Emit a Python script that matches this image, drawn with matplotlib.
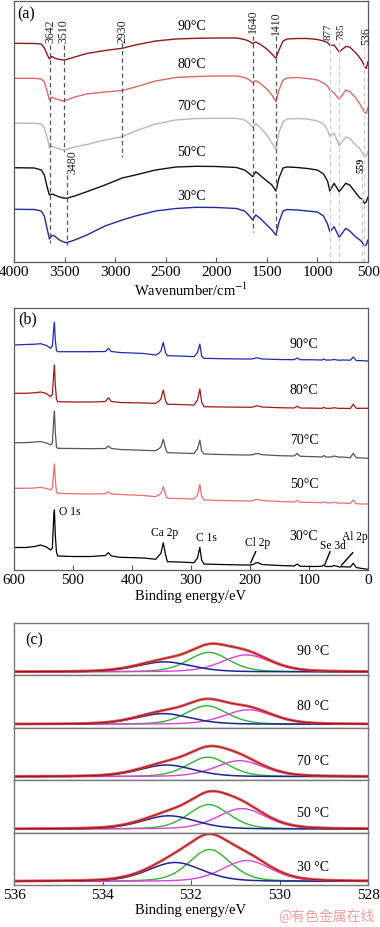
import matplotlib
matplotlib.use('Agg')
import matplotlib.pyplot as plt
import numpy as np

plt.rcParams['font.family'] = ['Liberation Serif', 'DejaVu Serif']
plt.rcParams['mathtext.fontset'] = 'stix'

# ---------------- (a) FTIR data ----------------
wavenumber = [4000, 3800, 3730, 3700, 3670, 3650, 3625, 3600, 3550, 3510, 3480, 3400,
              3280, 3100, 2930, 2800, 2600, 2400, 2200, 2000, 1800, 1720, 1680, 1640,
              1610, 1570, 1500, 1450, 1410, 1380, 1340, 1300, 1200, 1100, 1000, 940,
              900, 877, 835, 785, 720, 680, 620, 580, 559, 536, 518, 500]
ftir_90 = [218.7, 218.5, 218, 214, 207, 203, 205.5, 204, 202.5, 202, 202.5, 205,
           208.5, 211.5, 213.7, 217, 221, 223, 223.7, 224, 224, 222.5, 221, 218.5,
           220, 218, 213, 208, 203.7, 212, 221, 223, 223.5, 223.5, 222.5, 221,
           219.5, 216.5, 217, 210, 215.5, 215, 209, 204, 201, 196, 193.5, 200.3]
ftir_80 = [183.7, 183.7, 183, 180, 170, 162, 165, 163.5, 162, 161, 162, 165,
           168, 170, 171.5, 175, 181, 184.5, 185.5, 186, 186, 184.5, 182.5, 179.5,
           181.5, 179, 173, 167, 160.3, 172, 182, 184, 184.5, 183.5, 182, 179,
           176, 172, 169, 162.7, 172, 170.5, 164, 158, 154, 150, 148.7, 154.7]
ftir_70 = [139, 138.7, 138, 134, 124, 114, 116, 115, 113, 112, 112.5, 115,
           117.5, 122, 125.3, 131, 138, 142, 143.5, 143.7, 143.7, 142, 139, 134.5,
           138.5, 135, 127, 119, 112.7, 130, 140, 143, 143.5, 143, 141, 138,
           132, 125.3, 129, 116, 125, 123.5, 117, 113, 110, 105.3, 106, 110.3]
ftir_50 = [94.3, 94, 92, 87, 74, 67, 68, 67, 65, 64, 63.7, 66,
           70.3, 77, 84, 87, 92, 95, 95.7, 95.5, 94.5, 92, 89, 85.3,
           90.3, 87, 81, 77, 71, 84, 94, 95, 94.5, 93.5, 92, 88,
           81, 71, 78.7, 70.3, 78.7, 77, 69, 64, 63, 58.7, 60, 65]
ftir_30 = [52.7, 52.5, 51, 46, 32, 23, 26.5, 26, 22, 20, 19.3, 22,
           27, 36, 42, 46, 51, 53.5, 54.7, 54.5, 53.5, 51, 47, 42,
           47, 44, 37, 32, 27, 40, 51, 52.5, 52, 51, 50, 46,
           38, 30.3, 35.3, 24.7, 33.7, 31, 25, 22, 20, 16, 17, 22]
ftir_temps = ['90°C', '80°C', '70°C', '50°C', '30°C']
ftir_ticks = [4000, 3500, 3000, 2500, 2000, 1500, 1000, 500]
band_labels = ['3642', '3510', '3480', '2930', '1640', '1410', '877', '785', '559', '536']
band_positions = [3642, 3510, 3480, 2930, 1640, 1410, 877, 785, 559, 536]

# ---------------- (b) XPS survey data ----------------
binding_energy = [600, 580, 565, 555, 545, 538, 535, 532.5, 531.5, 530, 528, 526, 500, 470,
                  445, 440, 435, 420, 380, 360, 355, 351, 347, 343, 340, 320, 295, 289,
                  285, 282, 278, 250, 210, 200, 195, 190, 186, 180, 150, 125, 120, 115,
                  90, 78, 75, 72, 62, 58, 48, 45, 30, 25, 20, 10, 0]
xps_90 = [225, 225.5, 225.8, 226.3, 224.5, 221.7, 224, 242, 247.7, 230, 219.5, 218.3, 218.3, 218.3,
          218.5, 221.7, 218.5, 217.5, 216.5, 215, 216.5, 219, 227.7, 217, 214.3, 214, 213.3, 217.5,
          226, 214, 211.7, 211.3, 211, 211, 211.2, 212, 212, 211, 210.5, 210.3, 212, 210.3,
          210.2, 210, 211, 210, 210, 210.5, 209.7, 210, 209.8, 213, 209.5, 209.3, 209]
xps_80 = [176.7, 176.7, 177.2, 178, 176.5, 173.3, 175.5, 198, 205, 185, 171, 168.3, 168, 168,
          168.5, 172.3, 168.5, 167.5, 167, 166.7, 168.5, 171, 180, 169, 165.7, 165.5, 165, 170,
          181, 168, 163.3, 163, 162.8, 162.7, 163, 164, 164, 163, 162.3, 162, 163.8, 162,
          161.8, 161.7, 162.7, 161.7, 161.7, 162.3, 161.5, 161.7, 161.5, 165.7, 161.7, 161.7, 161.7]
xps_70 = [127.3, 127.3, 128, 128.5, 127, 125, 127, 152, 159, 138, 123, 121.7, 121.5, 121.3,
          121.5, 124, 121.5, 120.5, 119.7, 119.3, 121, 123, 130.7, 121, 117.3, 117, 116.5, 121,
          130, 119, 116, 115.5, 115, 115, 115.3, 116.3, 116.3, 115.3, 114.3, 114, 116.5, 113.7,
          113.3, 113, 114.5, 113, 113, 114, 112.7, 113, 112.3, 116.7, 112.3, 112, 111.7]
xps_50 = [81.7, 81.7, 82, 82.7, 81.5, 80, 82, 100, 106, 90, 78, 76.7, 76.3, 76,
          76.3, 78.3, 76, 75.5, 74.5, 73.3, 75, 76.5, 83.3, 75, 71.7, 71.5, 71, 75,
          85.7, 74, 70, 69.5, 69, 69, 69.5, 70.5, 70.5, 69.5, 68.5, 68, 69.5, 67.8,
          67.5, 67.3, 68.3, 67.3, 67, 67.8, 66.7, 67, 66.5, 70, 66.3, 66, 66]
xps_30 = [22.5, 22.5, 23.5, 25, 23, 20, 22, 55, 60, 35, 18, 14, 13.5, 13.5,
          14.5, 17.3, 14, 12.7, 12, 10.7, 14, 16.7, 27.3, 15, 8.3, 8, 7.3, 12,
          22.7, 10, 6, 5.5, 5, 5, 5.5, 7, 7.3, 5.5, 4.5, 4, 6, 3.7,
          3.5, 3.7, 5, 3.5, 3.5, 4.5, 3, 3.3, 3, 6.7, 2.5, 1.5, 0.7]
xps_temps = ['90°C', '80°C', '70°C', '50°C', '30°C']
xps_ticks = [600, 500, 400, 300, 200, 100, 0]
xps_peak_names = ['O 1s', 'Ca 2p', 'C 1s', 'Cl 2p', 'Se 3d', 'Al 2p']

# ---------------- (c) O 1s fits ----------------
o1s_temps = ['90 °C', '80 °C', '70 °C', '50 °C', '30 °C']
blue_center = [532.60, 532.63, 532.55, 532.50, 532.36]
blue_height = [10.0, 10.7, 11.7, 13.3, 19.0]
green_center = [531.60, 531.65, 531.62, 531.60, 531.58]
green_height = [19.5, 18.5, 19.5, 24.5, 32.0]
magenta_center = [530.75, 530.70, 530.90, 530.85, 530.74]
magenta_height = [17.0, 14.5, 16.0, 20.5, 21.0]
blue_fwhm = [1.45, 1.45, 1.45, 1.45, 1.45]
green_fwhm = [1.10, 1.10, 1.10, 1.10, 1.10]
magenta_fwhm = [1.30, 1.30, 1.30, 1.30, 1.30]
o1s_ticks = [536, 534, 532, 530, 528]

# ================= figure =================
fig = plt.figure(figsize=(3.8, 9.27), dpi=100)
W, H = 380.0, 927.0
L = 14 / W
AW = 354 / W
spine_col = '#5a5a5a'


def style_axes(ax):
    for s in ax.spines.values():
        s.set_color(spine_col)
        s.set_linewidth(0.9)
    ax.tick_params(axis='x', direction='in', length=3.5, width=0.8, color=spine_col,
                   labelsize=11, pad=3)
    ax.set_yticks([])


# ---- (a)
axa = fig.add_axes([L, 1 - 262 / H, AW, 261 / H])
style_axes(axa)
ftir_colors = ['#8e1b1b', '#e06868', '#b8b8b8', '#111111', '#1f2a9e']
for ys, c in zip([ftir_90, ftir_80, ftir_70, ftir_50, ftir_30], ftir_colors):
    axa.plot(wavenumber, ys, color=c, lw=1.0)
axa.set_xlim(4000, 500)
axa.set_ylim(0, 261)
axa.set_xticks(ftir_ticks)
axa.set_xticklabels([str(t) for t in ftir_ticks])
axa.set_xlabel('Wavenumber/cm$^{-1}$', fontsize=10.5, labelpad=2)

# dashed band markers (x, y0, y1, dark?)
dash_extent = [(217, 19, True), (217, 110, True), (87, 17, True), (219, 105, True),
               (226, 30, True), (226, 26, True), (220, 0, False), (220, 0, False),
               (86, 0, False), (215, 0, False)]
for xpos, (y0, y1, dark) in zip(band_positions, dash_extent):
    axa.plot([xpos, xpos], [y0, y1], color='#555555' if dark else '#cfcfcf',
             lw=0.9, ls=(0, (3.5, 2.5)))
# band labels: (x, y, va)
lab_place = [(3642, 219, 'bottom'), (3510, 219, 'bottom'), (3426, 112, 'top'),
             (2930, 219, 'bottom'), (1640, 229, 'bottom'), (1410, 227, 'bottom'),
             (890, 222, 'bottom'), (768, 222, 'bottom'), (571, 104, 'top'),
             (522, 217, 'bottom')]
for txt, (xp, yp, va) in zip(band_labels, lab_place):
    small = txt == '559'
    size = 7.5 if small else (8.0 if txt in ('877', '785') else 8.5)
    axa.text(xp, yp, txt, rotation=90, ha='center', va=va,
             fontsize=size, color='#222222',
             fontweight='bold' if small else 'normal', clip_on=False)
for t, yv in zip(ftir_temps, [235, 197, 155, 109, 65]):
    axa.text(2244, yv, t, ha='center', va='center', fontsize=10)
axa.text(0.01, 0.95, '(a)', transform=axa.transAxes, fontsize=11.5, ha='left', va='center')

# ---- (b)
axb = fig.add_axes([L, 1 - 570 / H, AW, 262 / H])
style_axes(axb)
xps_colors = ['#1f2ab0', '#a01818', '#555555', '#e87070', '#000000']
for ys, c in zip([xps_90, xps_80, xps_70, xps_50, xps_30], xps_colors):
    axb.plot(binding_energy, ys, color=c, lw=0.9)
axb.set_xlim(600, 0)
axb.set_ylim(0, 262)
axb.set_xticks(xps_ticks)
axb.set_xticklabels([str(t) for t in xps_ticks])
axb.set_xlabel('Binding energy/eV', fontsize=10.5, labelpad=2)
for t, yv in zip(xps_temps, [225.7, 179, 130, 85, 33]):
    axb.text(108.5, yv, t, ha='center', va='center', fontsize=10)
name_place = [(523.7, 58, 'left'), (345, 36.7, 'center'), (274.6, 32, 'center'),
              (186.4, 27.3, 'center'), (59.3, 24, 'center'), (22, 32.7, 'center')]
for nm, (xp, yp, ha) in zip(xps_peak_names, name_place):
    axb.text(xp, yp, nm, ha=ha, va='center', fontsize=8.3)
for (x0, y0, x1, y1) in [(198.8, 7.3, 190.3, 18.3), (72.9, 6, 64.4, 18.3), (44.6, 5, 25.9, 17.3)]:
    axb.plot([x0, x1], [y0, y1], color='k', lw=1.0)
axb.text(0.012, 0.955, '(b)', transform=axb.transAxes, fontsize=11.5, ha='left', va='center')

# ---- (c)
def pvoigt(x, c, h, fwhm, eta=0.3):
    s = fwhm / 2.3548
    g = np.exp(-0.5 * ((x - c) / s) ** 2)
    lo = 1.0 / (1.0 + ((x - c) / (fwhm / 2.0)) ** 2)
    return h * ((1 - eta) * g + eta * lo)


xe = np.linspace(536, 528, 500)
sub_h = 262 / H / 5
label_y = [20, 17.3, 15.2, 15.7, 14.3]
axes_c = []
for i in range(5):
    ax = fig.add_axes([L, 1 - 623 / H - (i + 1) * sub_h, AW, sub_h])
    for s in ax.spines.values():
        s.set_color('#7a7a7a')
        s.set_linewidth(1.0)
    ax.set_yticks([])
    ax.set_xlim(536, 528)
    ax.set_ylim(-3.5, 48.9)
    b = pvoigt(xe, blue_center[i], blue_height[i], blue_fwhm[i])
    g = pvoigt(xe, green_center[i], green_height[i], green_fwhm[i])
    m = pvoigt(xe, magenta_center[i], magenta_height[i], magenta_fwhm[i])
    env = b + g + m
    ax.plot(xe, g, color='#2fb52f', lw=1.0)
    ax.plot(xe, m, color='#dd40dd', lw=1.0)
    ax.plot(xe, b, color='#1b2590', lw=1.1)
    ax.plot(xe, env, color='#ee3030', lw=2.0, alpha=0.85)
    ax.plot(xe, env, color='#3a0a0a', lw=0.5, alpha=0.7)
    ax.text(529.25, label_y[i], o1s_temps[i], ha='center', va='center', fontsize=10)
    if i < 4:
        ax.set_xticks([])
    else:
        ax.set_xticks(o1s_ticks)
        ax.set_xticklabels([str(t) for t in o1s_ticks])
        ax.tick_params(axis='x', direction='in', length=3.5, width=0.8, color=spine_col,
                       labelsize=11, pad=3)
        ax.set_xlabel('Binding energy/eV', fontsize=10.5, labelpad=1)
    axes_c.append(ax)
axes_c[0].text(535.55, 32, '(c)', ha='center', va='center', fontsize=11.5)

fig.text(0.858, 1 - 917 / H, '@有色金属在线', ha='center', va='center', fontsize=10,
         color='#f2a0a0', family=['Noto Sans CJK SC', 'DejaVu Sans'])

fig.savefig('out.png', dpi=100)
